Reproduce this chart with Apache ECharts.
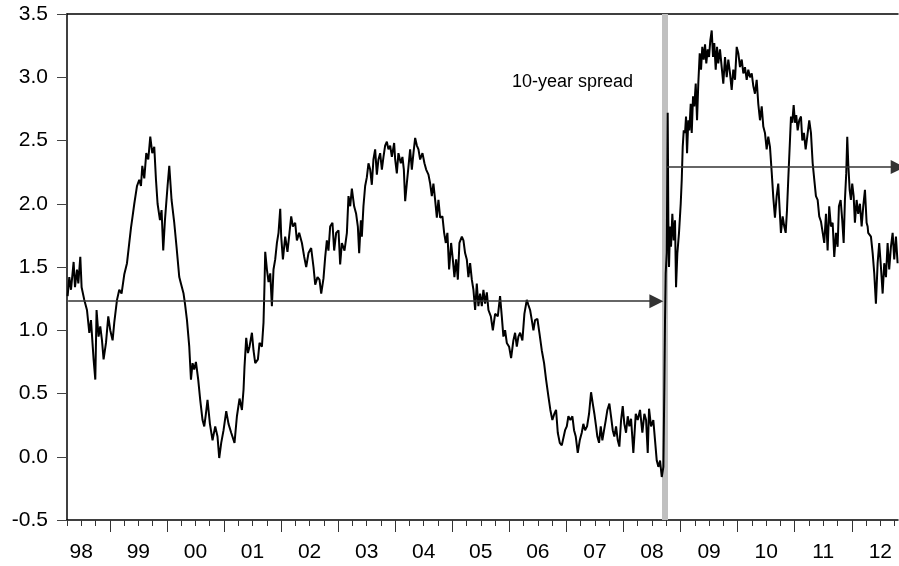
<!DOCTYPE html>
<html>
<head>
<meta charset="utf-8">
<script src="https://cdn.jsdelivr.net/npm/echarts@6/dist/echarts.min.js"></script>
<style>
  html, body { margin: 0; padding: 0; background: #fff; }
  #chart { width: 899px; height: 566px; }
</style>
</head>
<body>
<div id="chart"></div>
<script>
// ---- data (decimal years, spread in %-points) ----
const dates = [
1998.261,1998.290,1998.320,1998.366,1998.390,1998.425,1998.448,1998.483,1998.506,1998.553,
1998.600,1998.641,1998.670,1998.716,1998.746,1998.768,1998.803,1998.833,1998.863,1998.891,
1998.933,1998.973,1999.008,1999.049,1999.078,1999.126,1999.166,1999.206,1999.253,1999.301,
1999.341,1999.371,1999.399,1999.429,1999.476,1999.516,1999.546,1999.569,1999.604,1999.639,
1999.674,1999.709,1999.744,1999.779,1999.809,1999.837,1999.879,1999.907,1999.936,1999.966,
2000.012,2000.042,2000.082,2000.129,2000.169,2000.217,2000.246,2000.292,2000.317,2000.352,
2000.392,2000.422,2000.450,2000.479,2000.509,2000.549,2000.584,2000.625,2000.655,2000.684,
2000.712,2000.754,2000.800,2000.847,2000.887,2000.917,2000.952,2000.993,2001.040,2001.080,
2001.127,2001.185,2001.227,2001.273,2001.315,2001.343,2001.360,2001.390,2001.420,2001.448,
2001.490,2001.518,2001.548,2001.595,2001.623,2001.665,2001.693,2001.711,2001.723,2001.753,
2001.781,2001.811,2001.840,2001.868,2001.898,2001.928,2001.956,2001.986,2002.003,2002.033,
2002.073,2002.113,2002.148,2002.178,2002.208,2002.248,2002.278,2002.318,2002.366,2002.406,
2002.441,2002.481,2002.528,2002.569,2002.599,2002.639,2002.674,2002.704,2002.744,2002.774,
2002.803,2002.831,2002.861,2002.901,2002.931,2002.966,2003.007,2003.036,2003.066,2003.112,
2003.154,2003.182,2003.212,2003.241,2003.281,2003.316,2003.346,2003.369,2003.399,2003.416,
2003.444,2003.474,2003.504,2003.532,2003.562,2003.591,2003.619,2003.649,2003.679,2003.707,
2003.737,2003.767,2003.795,2003.824,2003.854,2003.882,2003.912,2003.942,2003.982,2004.000,
2004.029,2004.057,2004.099,2004.127,2004.152,2004.175,2004.204,2004.232,2004.262,2004.292,
2004.320,2004.350,2004.380,2004.408,2004.437,2004.478,2004.513,2004.543,2004.583,2004.613,
2004.642,2004.670,2004.700,2004.730,2004.758,2004.788,2004.828,2004.858,2004.887,2004.915,
2004.945,2004.980,2005.010,2005.038,2005.068,2005.098,2005.126,2005.168,2005.196,2005.225,
2005.255,2005.283,2005.313,2005.343,2005.371,2005.401,2005.430,2005.458,2005.488,2005.518,
2005.546,2005.576,2005.606,2005.634,2005.676,2005.711,2005.751,2005.798,2005.838,2005.868,
2005.896,2005.926,2005.956,2005.996,2006.031,2006.071,2006.101,2006.131,2006.159,2006.189,
2006.229,2006.264,2006.306,2006.334,2006.364,2006.394,2006.422,2006.451,2006.492,2006.527,
2006.569,2006.609,2006.644,2006.684,2006.719,2006.754,2006.789,2006.819,2006.849,2006.884,
2006.919,2006.947,2006.977,2007.007,2007.035,2007.070,2007.105,2007.134,2007.164,2007.199,
2007.234,2007.269,2007.297,2007.327,2007.362,2007.397,2007.432,2007.462,2007.490,2007.520,
2007.542,2007.572,2007.602,2007.630,2007.660,2007.690,2007.718,2007.753,2007.782,2007.812,
2007.840,2007.870,2007.900,2007.928,2007.958,2007.987,2008.015,2008.045,2008.075,2008.103,
2008.133,2008.173,2008.215,2008.250,2008.290,2008.331,2008.366,2008.396,2008.425,2008.448,
2008.483,2008.523,2008.553,2008.583,2008.611,2008.641,2008.671,2008.699,2008.716,2008.728,
2008.740,2008.758,2008.775,2008.786,2008.798,2008.816,2008.833,2008.856,2008.880,2008.903,
2008.921,2008.944,2008.973,2009.003,2009.021,2009.038,2009.056,2009.079,2009.096,2009.114,
2009.136,2009.154,2009.178,2009.196,2009.219,2009.241,2009.266,2009.289,2009.311,2009.336,
2009.359,2009.381,2009.406,2009.429,2009.451,2009.476,2009.499,2009.521,2009.546,2009.569,
2009.591,2009.616,2009.639,2009.661,2009.691,2009.721,2009.749,2009.779,2009.809,2009.837,
2009.867,2009.896,2009.924,2009.954,2009.984,2010.012,2010.042,2010.072,2010.100,2010.129,
2010.159,2010.187,2010.217,2010.247,2010.275,2010.304,2010.334,2010.362,2010.392,2010.422,
2010.450,2010.479,2010.509,2010.537,2010.567,2010.597,2010.625,2010.654,2010.684,2010.712,
2010.737,2010.759,2010.789,2010.817,2010.842,2010.865,2010.887,2010.917,2010.935,2010.957,
2010.982,2011.005,2011.027,2011.052,2011.080,2011.110,2011.133,2011.162,2011.192,2011.220,
2011.255,2011.285,2011.315,2011.343,2011.372,2011.402,2011.430,2011.460,2011.490,2011.518,
2011.548,2011.577,2011.605,2011.635,2011.665,2011.693,2011.723,2011.752,2011.775,2011.805,
2011.833,2011.858,2011.880,2011.903,2011.921,2011.938,2011.963,2011.985,2012.008,2012.033,
2012.055,2012.085,2012.113,2012.143,2012.173,2012.201,2012.231,2012.260,2012.278,2012.288,
2012.336,2012.366,2012.394,2012.423,2012.453,2012.481,2012.511,2012.541,2012.569,2012.599,
2012.628,2012.656,2012.686,2012.716,2012.744,2012.774,2012.803
];
const spread = [
1.27,1.42,1.32,1.54,1.34,1.48,1.37,1.58,1.34,1.24,
1.16,0.98,1.08,0.77,0.61,1.16,0.95,1.03,0.92,0.77,
0.90,1.11,1.00,0.92,1.06,1.24,1.32,1.29,1.44,1.53,
1.69,1.81,1.90,2.00,2.14,2.19,2.14,2.30,2.20,2.40,
2.35,2.53,2.40,2.45,2.19,2.00,1.87,1.95,1.63,1.87,
2.14,2.30,2.03,1.85,1.66,1.42,1.37,1.29,1.21,1.08,
0.87,0.61,0.74,0.69,0.75,0.61,0.45,0.29,0.24,0.34,
0.45,0.26,0.13,0.24,0.16,-0.01,0.11,0.21,0.36,0.26,
0.19,0.11,0.32,0.46,0.37,0.53,0.71,0.94,0.82,0.87,
0.98,0.84,0.74,0.77,0.90,0.87,1.06,1.37,1.62,1.48,
1.38,1.45,1.19,1.48,1.56,1.69,1.77,1.96,1.74,1.56,
1.74,1.62,1.77,1.90,1.82,1.85,1.71,1.77,1.69,1.58,
1.50,1.61,1.65,1.50,1.36,1.42,1.40,1.29,1.41,1.58,
1.71,1.63,1.82,1.85,1.63,1.77,1.79,1.52,1.69,1.63,
1.77,2.06,1.98,2.12,1.98,1.92,1.82,1.61,1.87,1.74,
1.98,2.14,2.21,2.32,2.27,2.15,2.35,2.43,2.23,2.35,
2.40,2.27,2.37,2.46,2.49,2.43,2.46,2.37,2.48,2.35,
2.24,2.40,2.32,2.37,2.27,2.02,2.16,2.29,2.43,2.27,
2.40,2.52,2.46,2.43,2.35,2.40,2.32,2.27,2.23,2.16,
2.06,2.16,2.03,1.89,2.03,1.89,1.90,1.77,1.69,1.77,
1.48,1.69,1.56,1.42,1.56,1.40,1.69,1.74,1.71,1.61,
1.56,1.42,1.53,1.40,1.32,1.16,1.37,1.19,1.29,1.19,
1.32,1.21,1.30,1.16,1.11,1.00,1.13,1.11,1.27,1.11,
0.95,1.00,0.90,0.87,0.78,0.92,0.98,0.87,0.95,0.98,
0.92,1.13,1.24,1.20,1.16,1.08,1.00,1.08,1.09,0.98,
0.84,0.74,0.61,0.48,0.37,0.29,0.34,0.37,0.19,0.11,
0.09,0.08,0.21,0.24,0.32,0.29,0.32,0.21,0.16,0.03,
0.13,0.19,0.26,0.21,0.24,0.34,0.51,0.42,0.34,0.24,
0.16,0.11,0.24,0.13,0.21,0.29,0.37,0.42,0.32,0.21,
0.16,0.24,0.13,0.08,0.29,0.40,0.26,0.19,0.32,0.24,
0.30,0.03,0.34,0.29,0.37,0.19,0.34,0.29,0.03,0.38,
0.24,0.29,0.13,-0.03,-0.08,-0.03,-0.16,-0.08,0.55,1.08,
1.45,1.61,2.72,1.87,1.50,1.82,1.66,1.92,1.71,1.87,
1.34,1.61,1.77,2.00,2.19,2.45,2.58,2.56,2.69,2.40,
2.66,2.58,2.79,2.56,2.85,2.77,2.95,2.66,2.95,3.19,
3.06,3.24,3.14,3.26,3.11,3.22,3.16,3.29,3.37,3.16,
3.27,3.06,3.24,3.11,3.22,3.08,2.95,3.16,3.00,3.14,
3.03,2.90,3.06,2.98,3.24,3.19,3.08,3.14,3.03,3.08,
2.98,3.06,3.00,3.03,2.93,2.87,2.98,2.79,2.66,2.77,
2.61,2.56,2.43,2.53,2.45,2.25,2.05,1.89,2.06,2.16,
1.95,1.77,1.90,1.82,1.77,1.95,2.19,2.50,2.69,2.64,
2.78,2.64,2.70,2.58,2.66,2.69,2.50,2.56,2.43,2.53,
2.66,2.56,2.32,2.19,2.06,2.03,1.90,1.86,1.87,1.69,
1.92,1.63,1.98,1.82,1.85,1.58,1.77,1.66,1.98,2.03,
1.87,1.69,2.03,2.24,2.53,2.32,2.11,2.03,2.16,2.06,
1.85,2.03,1.92,2.00,1.82,1.98,2.11,1.85,1.82,1.77,
1.74,1.61,1.45,1.21,1.53,1.69,1.50,1.29,1.53,1.42,
1.69,1.48,1.66,1.77,1.56,1.74,1.53
];

// period averages (arrows)
const avgStart = [1998.27, 2008.76];
const avgEnd   = [2008.576, 2012.805];
const avgValue = [1.23, 2.29];

// crisis band (Sept 2008)
const bandFrom = 2008.675;
const bandTo   = 2008.78;

// axis
const xMin = 1998.25, xMax = 2012.81;
const yearTicks = [1999,2000,2001,2002,2003,2004,2005,2006,2007,2008,2009,2010,2011,2012];
const xTickLabels = ['98','99','00','01','02','03','04','05','06','07','08','09','10','11','12'];
const labelYears = [1998,1999,2000,2001,2002,2003,2004,2005,2006,2007,2008,2009,2010,2011,2012];
const annotation = '10-year spread';

// ---- build ----
const seriesData = dates.map((d, i) => [d, spread[i]]);
const labelPos = labelYears.map(y => y + 0.5);
const quarterTicks = [];
labelYears.forEach(y => [0.25, 0.5, 0.75].forEach(q => {
  const v = y + q; if (v >= xMin && v <= xMax) quarterTicks.push(v);
}));
const labelFor = v => {
  const idx = labelPos.findIndex(p => Math.abs(p - v) < 1e-6);
  return idx >= 0 ? xTickLabels[idx] : '';
};

const FONT = 'Liberation Sans, Arial, Helvetica, sans-serif';
const chart = echarts.init(document.getElementById('chart'), null, { renderer: 'canvas' });

chart.setOption({
  animation: false,
  backgroundColor: '#fff',
  grid: { left: 67, right: 1, top: 14, bottom: 46, containLabel: false },
  xAxis: [
    {
      type: 'value', min: xMin, max: xMax, position: 'bottom',
      axisLine: { show: true, onZero: false, lineStyle: { color: '#000', width: 1.5 } },
      axisTick: { show: true, customValues: quarterTicks, length: 6, lineStyle: { color: '#333', width: 1 } },
      axisLabel: { show: true, customValues: labelPos, formatter: labelFor,
                   fontSize: 21, fontFamily: FONT, color: '#000', margin: 22 },
      splitLine: { show: false }
    },
    {
      type: 'value', min: xMin, max: xMax, position: 'bottom',
      axisLine: { show: false, onZero: false },
      axisTick: { show: true, customValues: yearTicks, length: 12, lineStyle: { color: '#333', width: 1 } },
      axisLabel: { show: false },
      splitLine: { show: false }
    },
    {
      type: 'value', min: xMin, max: xMax, position: 'top',
      axisLine: { show: true, onZero: false, lineStyle: { color: '#000', width: 1.5 } },
      axisTick: { show: false }, axisLabel: { show: false }, splitLine: { show: false }
    }
  ],
  yAxis: {
    type: 'value', min: -0.5, max: 3.5, interval: 0.5,
    axisLine: { show: true, onZero: false, lineStyle: { color: '#000', width: 1.5 } },
    axisTick: { show: true, length: 10, lineStyle: { color: '#444', width: 1 } },
    axisLabel: { fontSize: 21, fontFamily: FONT, color: '#000', margin: 19,
                 formatter: v => Number(v).toFixed(1) },
    splitLine: { show: false }
  },
  series: [
    {
      name: 'band', type: 'line', data: [], z: 1, silent: true,
      markArea: {
        silent: true,
        itemStyle: { color: '#c0c0c0' },
        data: [[{ xAxis: bandFrom }, { xAxis: bandTo }]]
      }
    },
    {
      name: 'spread', type: 'line', data: seriesData, z: 3,
      showSymbol: false, symbol: 'none',
      lineStyle: { color: '#000', width: 2 },
      silent: true
    },
    {
      name: 'averages', type: 'line', data: [], z: 4, clip: false, silent: true,
      markLine: {
        silent: true,
        symbol: ['none', 'triangle'],
        symbolSize: [14, 14],
        label: { show: false },
        lineStyle: { color: '#333', width: 1.5, type: 'solid' },
        itemStyle: { color: '#000' },
        data: avgValue.map((v, i) => [
          { coord: [avgStart[i], v] },
          { coord: [avgEnd[i], v] }
        ])
      }
    }
  ],
  graphic: [
    {
      type: 'text', x: 633, y: 82, silent: true,
      style: { text: annotation, fill: '#000', font: '18px ' + FONT,
               textAlign: 'right', textVerticalAlign: 'middle' }
    }
  ]
});
</script>
</body>
</html>
